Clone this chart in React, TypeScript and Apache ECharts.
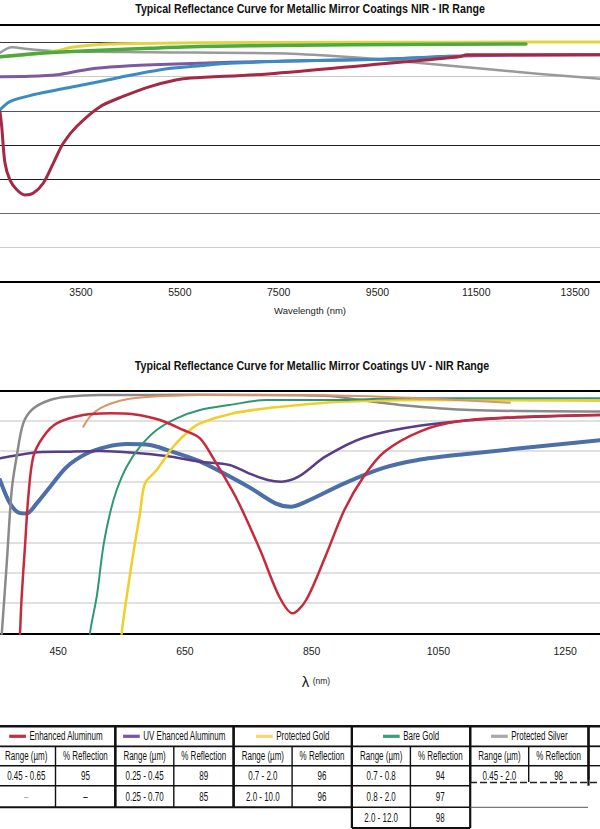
import React, { useEffect, useRef } from "react";
import * as echarts from "echarts";

const FONT = "'Liberation Sans', Arial, sans-serif";

// ---------- NIR - IR chart (wavelength nm, reflectance %) ----------
const irTicks = [3500, 5500, 7500, 9500, 11500, 13500];
const irProtectedSilver = [[1860, 98.5], [2100, 99.3], [2470, 99.0], [3075, 98.7], [4895, 98.57], [7425, 98.42], [8540, 98.06], [9610, 97.5], [10360, 97.0], [11475, 96.25], [12790, 95.4], [14004, 94.7]];
const irProtectedGold = [[1860, 97.9], [2670, 98.4], [3075, 98.85], [3280, 99.25], [3680, 99.6], [4290, 99.8], [5910, 99.95], [8945, 100.03], [14004, 100.06]];
const irBareGold = [[1860, 97.9], [2530, 98.35], [3215, 98.65], [3885, 98.85], [4895, 99.15], [5910, 99.4], [7930, 99.6], [9955, 99.7], [12505, 99.77]];
const irUvEnhancedAluminum = [[1860, 95.0], [2470, 95.05], [3015, 95.27], [3480, 95.86], [3805, 96.22], [4490, 96.59], [4955, 96.74], [6515, 97.1], [9610, 97.54], [10970, 97.98], [12385, 98.13], [14004, 98.2]];
const irProtectedAluminum = [[1860, 90.15], [2060, 91.36], [2530, 92.34], [3215, 93.33], [3885, 94.29], [4550, 95.27], [5240, 96.15], [5910, 96.59], [6515, 96.96], [7930, 97.32], [9610, 97.54], [10360, 97.76], [10970, 97.98]];
const irEnhancedAluminum = [[1860, 89.85], [1895, 87.7], [1960, 82.4], [2060, 79.9], [2200, 78.45], [2365, 77.7], [2530, 77.95], [2735, 79.4], [2940, 82.35], [3140, 85.25], [3410, 87.7], [3885, 90.6], [4350, 92.1], [4895, 93.55], [5440, 94.55], [5725, 94.8], [7285, 95.4], [9610, 96.9], [9955, 97.1], [11150, 97.9], [11310, 98.2], [14004, 98.2]];

// ---------- UV - NIR chart ----------
const uvTicks = [450, 650, 850, 1050, 1250];
const uvProtectedAluminum = [[358.2, 85.25], [374, 81.4], [389.8, 79.8], [400.3, 79.75], [416.1, 81.4], [437.1, 84.1], [463.4, 87.4], [495, 89.6], [526.5, 90.7], [558.1, 91.15], [594.9, 91.0], [621.2, 90.2], [673.8, 88.3], [750.8, 84.1], [792.9, 81.4], [817.2, 80.85], [841.3, 81.7], [901.6, 84.7], [962, 87.2], [1015.7, 88.5], [1083, 89.4], [1305, 91.8]];
const uvUvEnhancedAluminum = [[358.2, 88.8], [410.7, 89.74], [463.4, 89.9], [516, 90.02], [568.5, 89.74], [621.2, 89.19], [673.8, 88.26], [720.5, 87.71], [750.8, 86.35], [780.9, 85.25], [802, 84.97], [829.2, 85.79], [871.5, 89.08], [931.9, 92.2], [1022.5, 94.2], [1147.1, 95.39], [1305, 95.94]];
const uvProtectedSilver = [[357, 55], [361, 60], [368.8, 71.5], [376.7, 83.6], [384.5, 89.1], [395, 94.6], [410.7, 97.0], [437, 98.4], [463.4, 98.95], [516, 99.23], [674, 99.25], [832, 99.2], [879, 99.05], [926, 98.4], [989, 97.6], [1100, 96.76], [1305, 96.5]];
const uvProtectedGold = [[548, 55], [550.2, 60.03], [558.1, 66.05], [568.5, 73.19], [579.1, 79.77], [587, 84.7], [605.4, 86.89], [631.6, 90.72], [658, 93.47], [673.8, 94.57], [726.3, 96.22], [779, 97.04], [831.5, 97.58], [894.7, 98.13], [1022.5, 98.4], [1305, 98.3]];
const uvBareGold = [[498, 55], [500.2, 60.03], [510.8, 66.05], [521.2, 74.28], [531.8, 79.77], [542.3, 83.6], [558.1, 87.43], [579.1, 90.72], [605.4, 93.47], [637, 95.39], [673.8, 96.76], [720.5, 97.58], [779, 98.4], [884.1, 98.4], [989.3, 98.68], [1305, 98.68]];
const uvEnhancedSilver = [[489.6, 94.01], [500.2, 95.66], [516, 97.04], [542.3, 98.13], [568.5, 98.68], [594.9, 98.95], [673.8, 99.23], [831.5, 99.23], [962, 98.95], [1082.7, 98.4], [1162.9, 97.96]];
const uvEnhancedAluminum = [[389, 58], [389.8, 60.03], [392.4, 66.05], [397.6, 74.28], [402.9, 82.5], [410.7, 89.08], [426.5, 92.37], [447.7, 94.57], [489.6, 95.94], [531.8, 96.22], [568.5, 96.05], [610.6, 95.11], [647.4, 93.47], [673.8, 92.1], [696.3, 88.54], [732.6, 81.96], [768.7, 73.73], [799, 66.05], [820.2, 63.32], [841.3, 65.51], [871.5, 72.63], [901.6, 80.31], [931.9, 85.79], [965, 89.9], [1022.5, 93.3], [1082.7, 94.9], [1173, 95.6], [1305, 95.95]];

// ---------- Table ----------
const tableCoatings = ["Enhanced Aluminum", "UV Ehanced Aluminum", "Protected Gold", "Bare Gold", "Protected Silver"];
const tableSwatches = ["#b83442", "#7a55a6", "#f6d877", "#3e9c7d", "#a9a9a9"];
const tableRanges = [["0.45 - 0.65", "–"], ["0.25 - 0.45", "0.25 - 0.70"], ["0.7 - 2.0", "2.0 - 10.0"], ["0.7 - 0.8", "0.8 - 2.0", "2.0 - 12.0"], ["0.45 - 2.0"]];
const tableReflection = [["95", "–"], ["89", "85"], ["96", "96"], ["94", "97", "98"], ["98"]];
const tableHeaders = ["Range (µm)", "% Reflection"];

const titleTop = "Typical Reflectance Curve for Metallic Mirror Coatings NIR - IR Range";
const titleBottom = "Typical Reflectance Curve for Metallic Mirror Coatings UV - NIR Range";

function measurer() {
  const canvas = document.createElement("canvas");
  const ctx = canvas.getContext("2d")!;
  return (t: string, size: number, weight = "normal") => {
    ctx.font = `${weight} ${size}px ${FONT}`;
    return ctx.measureText(t).width;
  };
}

function buildTable(measure: (t: string, s: number, w?: string) => number): any[] {
  const els: any[] = [];
  const FS = 12;
  const SX = 42.3 / measure("Range (µm)", FS);
  const X0 = -3, GW = 118.3, SPLIT = 58.5;
  const rowY = [726.3, 746.3, 765.7, 785.7, 807.3, 828];
  const mid = (i: number) => (rowY[i] + rowY[i + 1]) / 2;
  const line = (x1: number, y1: number, x2: number, y2: number, w: number, color = "#111", dash?: number[]) =>
    els.push({ type: "line", silent: true, shape: { x1, y1, x2, y2 }, style: { stroke: color, lineWidth: w, lineDash: dash } });
  const text = (x: number, y: number, t: string, color = "#111", align = "center") =>
    els.push({ type: "text", silent: true, x, y, scaleX: SX, style: { text: t, fill: color, fontSize: FS, fontFamily: FONT, align, verticalAlign: "middle" } });

  line(0, rowY[0], 600, rowY[0], 2.5);
  tableCoatings.forEach((name, g) => {
    const gx = X0 + g * GW;
    const n = tableRanges[g].length;
    const isSilver = g === 4;
    const yb = isSilver ? 782 : rowY[2 + n];
    const tw = measure(name, FS) * SX;
    const total = 16.7 + 3.5 + tw;
    const sx = gx + GW / 2 - total / 2;
    els.push({ type: "rect", silent: true, shape: { x: sx, y: mid(0) - 1.6, width: 16.7, height: 3.2 }, style: { fill: tableSwatches[g] } });
    text(sx + 20.2, mid(0), name, "#111", "left");
    text(gx + SPLIT / 2, mid(1), tableHeaders[0]);
    text(gx + SPLIT + (GW - SPLIT) / 2, mid(1), tableHeaders[1]);
    tableRanges[g].forEach((r, i) => {
      const faint = g === 0 && i === 1;
      text(gx + SPLIT / 2, mid(2 + i), r, faint ? "#aaa" : "#111");
      text(gx + SPLIT + (GW - SPLIT) / 2, mid(2 + i), tableReflection[g][i]);
    });
    line(gx, rowY[0], gx, yb, 2.2);
    line(gx + GW, rowY[0], gx + GW, isSilver ? rowY[3] : yb, 2.2);
    line(gx + SPLIT, rowY[1], gx + SPLIT, yb, 1.4);
    line(gx, rowY[1], gx + GW, rowY[1], 1.8);
    for (let k = 2; k < 2 + n; k++) line(gx, rowY[k], gx + GW, rowY[k], 1.4);
    if (!isSilver) line(gx, yb, gx + GW, yb, 2);
  });
  const g7 = X0 + 5 * GW;
  line(g7, rowY[0], g7, rowY[2] + 14, 2.2);
  line(g7, rowY[1], 600, rowY[1], 1.8);
  line(g7, rowY[2], 600, rowY[2], 1.4);
  line(470, 782.5, 600, 782.5, 1.4, "#222", [7, 3]);
  line(470, rowY[4], 588, rowY[4], 1, "#555");
  return els;
}

function ln(name: string, data: number[][], color: string, width: number, xi: number, yi: number, z = 2) {
  return {
    type: "line", name, data, xAxisIndex: xi, yAxisIndex: yi, showSymbol: false, symbol: "none",
    smooth: 0.3, clip: true, silent: true, z,
    lineStyle: { color, width, cap: "round", join: "round" }, itemStyle: { color },
  };
}

const IR_MIN = 1860, IR_MAX = 14004, UV_MIN = 358.2, UV_MAX = 1305;

export default function App() {
  const ref = useRef<HTMLDivElement>(null);
  useEffect(() => {
    if (!ref.current) return;
    const chart = echarts.init(ref.current, undefined, { renderer: "svg" });
    const measure = measurer();
    const topAxis = (gi: number, min: number, max: number) => ({
      gridIndex: gi, type: "value", position: "top", min, max,
      axisLine: { show: true, onZero: false, lineStyle: { color: "#000", width: 2 } },
      axisTick: { show: false }, axisLabel: { show: false }, splitLine: { show: false },
    });
    const TFS = 13.5;
    const title = (x: number, y: number, t: string, w: number) => ({
      type: "text", silent: true, x, y, scaleX: w / measure(t, TFS, "bold"),
      style: { text: t, fill: "#111", fontSize: TFS, fontWeight: "bold", fontFamily: FONT, align: "center", verticalAlign: "middle" },
    });
    const plain = (v: number) => String(v);
    const option: any = {
      animation: false,
      backgroundColor: "#fff",
      textStyle: { fontFamily: FONT },
      grid: [
        { left: 0, right: 0, top: 24.7, bottom: 829 - 281.7, outerBoundsMode: "none", containLabel: false },
        { left: 0, right: 0, top: 390.3, bottom: 829 - 633.5, outerBoundsMode: "none", containLabel: false },
      ],
      xAxis: [
        {
          gridIndex: 0, type: "value", position: "bottom", min: IR_MIN, max: IR_MAX,
          axisLine: { show: true, onZero: false, lineStyle: { color: "#000", width: 2 } },
          axisTick: { show: false }, splitLine: { show: false },
          axisLabel: { customValues: irTicks, formatter: plain, fontSize: 10.5, color: "#222", margin: 5, fontFamily: FONT },
          name: "Wavelength (nm)", nameLocation: "middle", nameGap: 23.5,
          nameTextStyle: { fontSize: 9.5, color: "#222", fontFamily: FONT, padding: [0, 0, 0, 20] },
        },
        topAxis(0, IR_MIN, IR_MAX),
        {
          gridIndex: 1, type: "value", position: "bottom", min: UV_MIN, max: UV_MAX,
          axisLine: { show: true, onZero: false, lineStyle: { color: "#000", width: 2 } },
          axisTick: { show: false }, splitLine: { show: false },
          axisLabel: { customValues: uvTicks, formatter: plain, fontSize: 10.5, color: "#222", margin: 12, fontFamily: FONT },
          name: "{l|λ} {u|(nm)}", nameLocation: "middle", nameGap: 40,
          nameTextStyle: {
            color: "#222", fontFamily: FONT, padding: [0, 0, 0, 32],
            rich: { l: { fontSize: 15, fontFamily: FONT, color: "#222" }, u: { fontSize: 8.5, fontFamily: FONT, color: "#222" } },
          },
        },
        topAxis(1, UV_MIN, UV_MAX),
      ],
      yAxis: [
        {
          gridIndex: 0, type: "value", min: 65, max: 102.6, interval: 5,
          axisLine: { show: false }, axisTick: { show: false }, axisLabel: { show: false },
          splitLine: { show: true, lineStyle: { width: 1.2, color: ["#000", "#cdcdcd", "#6a6a6a", "#1e1e1e", "#1e1e1e", "#555", "#c9c9c9", "#3a3a3a", "#000"] } },
        },
        {
          gridIndex: 1, type: "value", min: 60, max: 100, interval: 5,
          axisLine: { show: false }, axisTick: { show: false }, axisLabel: { show: false },
          splitLine: { show: true, lineStyle: { width: 1.6, color: ["#000", "#d6d6d6", "#d6d6d6", "#d6d6d6", "#d6d6d6", "#d6d6d6", "#d6d6d6", "#d6d6d6", "#000"] } },
        },
      ],
      series: [
        ln("Protected Silver", irProtectedSilver, "#9a9a9a", 2.5, 0, 0),
        ln("Protected Gold", irProtectedGold, "#e0d540", 3, 0, 0),
        ln("Bare Gold", irBareGold, "#4caa3e", 3.5, 0, 0),
        ln("UV Enhanced Aluminum", irUvEnhancedAluminum, "#7d5a9e", 3, 0, 0),
        ln("Protected Aluminum", irProtectedAluminum, "#3b8cc4", 3, 0, 0),
        ln("Enhanced Aluminum", irEnhancedAluminum, "#a52845", 3, 0, 0),

        ln("Protected Aluminum", uvProtectedAluminum, "#4c6fa8", 4, 2, 1),
        ln("UV Enhanced Aluminum", uvUvEnhancedAluminum, "#5a3d85", 2.5, 2, 1),
        ln("Protected Silver", uvProtectedSilver, "#8a8a8a", 2.5, 2, 1),
        ln("Protected Gold", uvProtectedGold, "#f0cf2a", 2.5, 2, 1),
        ln("Bare Gold", uvBareGold, "#2f9870", 2, 2, 1),
        ln("Enhanced Silver", uvEnhancedSilver, "#d8946a", 2, 2, 1),
        ln("Enhanced Aluminum", uvEnhancedAluminum, "#c72a3c", 2.5, 2, 1),
      ],
      graphic: [
        title(310, 9, titleTop, 350),
        title(312, 366, titleBottom, 355),
        ...buildTable(measure),
      ],
    };
    chart.setOption(option);
    return () => chart.dispose();
  }, []);
  return <div ref={ref} style={{ position: "absolute", left: 0, top: 0, width: 600, height: 829 }} />;
}
